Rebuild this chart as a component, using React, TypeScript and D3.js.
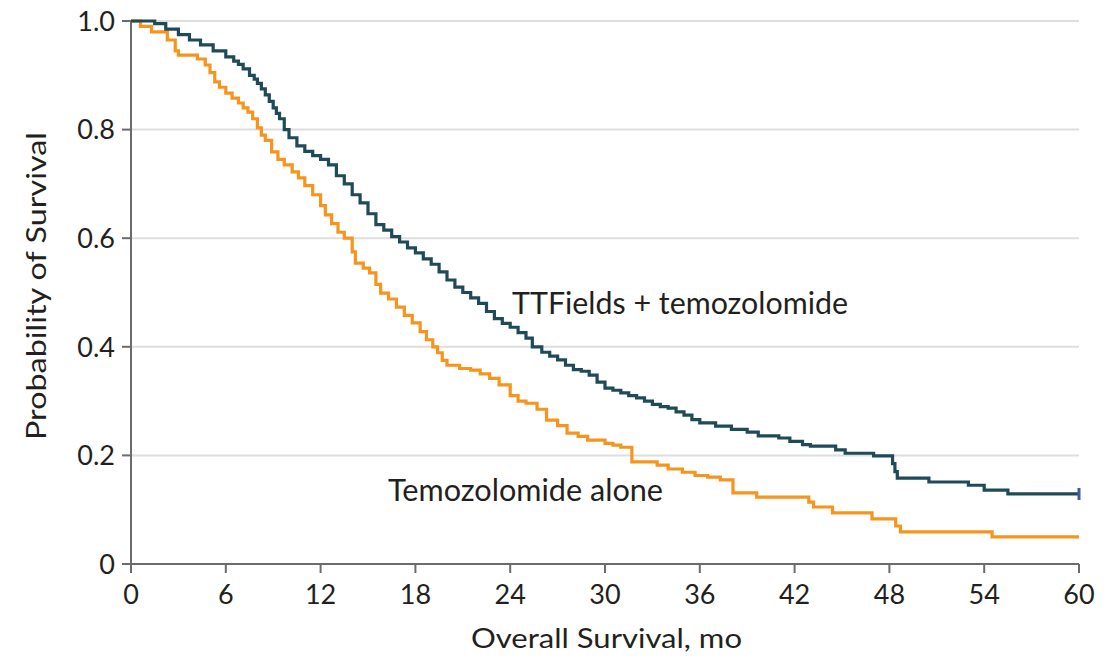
import { scaleLinear, line, curveStepAfter } from "d3";

// Kaplan-Meier curves: [month, survival probability]
const ttfieldsCurve: [number, number][] = [
  [0, 1.0], [1.5, 0.995], [2.2, 0.985], [3, 0.975], [3.7, 0.965], [4.4, 0.956], [5.2, 0.945],
  [6, 0.934], [6.5, 0.926], [6.8, 0.92], [7.1, 0.912], [7.5, 0.9], [7.8, 0.893], [8, 0.885],
  [8.25, 0.875], [8.5, 0.864], [8.75, 0.852], [9, 0.84], [9.2, 0.83], [9.4, 0.82], [9.7, 0.8],
  [10, 0.785], [10.5, 0.77], [11, 0.76], [11.5, 0.752], [12, 0.745], [12.5, 0.735],
  [13, 0.715], [13.5, 0.7], [14, 0.68], [14.5, 0.665], [15, 0.645], [15.5, 0.625], [16, 0.615],
  [16.5, 0.603], [17, 0.593], [17.5, 0.582], [18, 0.573], [18.5, 0.562], [19, 0.552],
  [19.5, 0.538], [20, 0.523], [20.5, 0.51], [21, 0.5], [21.5, 0.49], [22, 0.48], [22.5, 0.465],
  [23, 0.452], [23.5, 0.443], [24, 0.436], [24.5, 0.426], [25, 0.416], [25.4, 0.4], [26, 0.39],
  [26.5, 0.383], [27, 0.376], [27.5, 0.366], [28, 0.358], [28.5, 0.355], [29, 0.348],
  [29.5, 0.335], [30, 0.324], [30.5, 0.32], [31, 0.315], [31.5, 0.31], [32, 0.306], [32.5, 0.3],
  [33, 0.294], [33.5, 0.29], [34, 0.287], [34.5, 0.28], [35, 0.274], [35.5, 0.266], [36, 0.26],
  [37, 0.254], [38, 0.248], [39, 0.243], [39.7, 0.236], [41, 0.232], [41.7, 0.226], [42.5, 0.22],
  [43, 0.217], [44.6, 0.21], [45.2, 0.204], [47, 0.199], [48.2, 0.185], [48.35, 0.17],
  [48.5, 0.158], [50.5, 0.151], [53, 0.145], [54, 0.136], [55.5, 0.129], [60, 0.129],
];

const temozolomideCurve: [number, number][] = [
  [0, 1.0], [0.6, 0.99], [1.3, 0.98], [2.3, 0.965], [2.8, 0.945], [3, 0.937], [4.2, 0.93],
  [4.7, 0.919], [5, 0.905], [5.3, 0.888], [5.6, 0.878], [6, 0.867], [6.4, 0.858], [6.8, 0.849],
  [7.1, 0.84], [7.4, 0.832], [7.7, 0.82], [8, 0.803], [8.25, 0.79], [8.5, 0.78], [8.9, 0.759],
  [9.3, 0.745], [9.7, 0.735], [10.2, 0.722], [10.6, 0.711], [11, 0.697],
  [11.5, 0.68], [12, 0.66], [12.3, 0.643], [12.7, 0.627], [13.1, 0.611], [13.5, 0.6],
  [14, 0.575], [14.2, 0.554], [14.7, 0.545], [15.1, 0.536], [15.5, 0.515], [15.8, 0.499],
  [16.3, 0.488], [16.8, 0.473], [17.3, 0.458], [17.8, 0.444], [18.3, 0.428], [18.7, 0.413],
  [19.1, 0.4], [19.4, 0.389], [19.7, 0.375], [20, 0.366], [20.8, 0.36], [21.5, 0.357],
  [22.1, 0.35], [22.7, 0.342], [23.3, 0.33], [24, 0.31], [24.5, 0.3], [25, 0.296],
  [25.7, 0.285], [26.3, 0.265], [27, 0.255], [27.6, 0.241], [28.3, 0.235], [28.9, 0.228],
  [30, 0.222], [30.5, 0.219], [31, 0.215], [31.7, 0.188], [33.3, 0.182], [34, 0.175],
  [34.9, 0.169], [35.7, 0.163], [36.5, 0.16], [37.3, 0.155], [38.1, 0.131], [39.6, 0.123],
  [42.9, 0.114], [43.2, 0.105], [44.4, 0.094], [46.9, 0.083], [48.4, 0.07], [48.7, 0.059],
  [54.5, 0.05], [60, 0.05],
];

const xTicks = [0, 6, 12, 18, 24, 30, 36, 42, 48, 54, 60];
const yTicks = [0, 0.2, 0.4, 0.6, 0.8, 1.0];
const yTickLabels = ["0", "0.2", "0.4", "0.6", "0.8", "1.0"];

const TEAL = "#1e4b57";
const ORANGE = "#f7941d";
const FONT = "Lato, 'Open Sans', sans-serif";

export default function App() {
  const x = scaleLinear().domain([0, 60]).range([131, 1079]);
  const y = scaleLinear().domain([0, 1]).range([564, 21]);

  const km = line<[number, number]>()
    .x((d) => x(d[0]))
    .y((d) => y(d[1]))
    .curve(curveStepAfter);

  const lastTtf = ttfieldsCurve[ttfieldsCurve.length - 1];

  return (
    <svg
      width={1118}
      height={662}
      style={{ position: "absolute", left: 0, top: 0, background: "#fff" }}
      fontFamily={FONT}
    >
      {/* gridlines */}
      {yTicks.slice(1).map((t) => (
        <line key={t} x1={x(0)} x2={x(60)} y1={y(t)} y2={y(t)} stroke="#dedede" strokeWidth={2} />
      ))}

      {/* y axis */}
      <line x1={x(0)} x2={x(0)} y1={y(1)} y2={y(0)} stroke="#6b6b6b" strokeWidth={2} />
      {yTicks.map((t, i) => (
        <g key={t}>
          <line x1={x(0) - 9} x2={x(0)} y1={y(t)} y2={y(t)} stroke="#6b6b6b" strokeWidth={2} />
          <text x={x(0) - 16} y={y(t)} dy="0.36em" textAnchor="end" fontSize={27} fill="#231f20">
            {yTickLabels[i]}
          </text>
        </g>
      ))}

      {/* x axis */}
      <line x1={x(0) - 9} x2={x(60)} y1={y(0)} y2={y(0)} stroke="#6b6b6b" strokeWidth={2} />
      {xTicks.map((t) => (
        <g key={t}>
          <line x1={x(t)} x2={x(t)} y1={y(0)} y2={y(0) + 9} stroke="#6b6b6b" strokeWidth={2} />
          <text x={x(t)} y={604} textAnchor="middle" fontSize={27} fill="#231f20">
            {t}
          </text>
        </g>
      ))}

      {/* axis titles */}
      <text
        x={471}
        y={648}
        fontSize={27}
        fill="#231f20"
        textLength={271}
        lengthAdjust="spacingAndGlyphs"
      >
        Overall Survival, mo
      </text>
      <text
        transform="translate(46,440) rotate(-90)"
        fontSize={27}
        fill="#231f20"
        textLength={308}
        lengthAdjust="spacingAndGlyphs"
      >
        Probability of Survival
      </text>

      {/* curves */}
      <path d={km(temozolomideCurve) ?? ""} fill="none" stroke={ORANGE} strokeWidth={3.2} />
      <path d={km(ttfieldsCurve) ?? ""} fill="none" stroke={TEAL} strokeWidth={3.2} />
      <line
        x1={x(lastTtf[0])}
        x2={x(lastTtf[0])}
        y1={y(lastTtf[1]) - 6}
        y2={y(lastTtf[1]) + 6}
        stroke="#3b5ba5"
        strokeWidth={3}
      />

      {/* curve labels */}
      <text
        x={512}
        y={314}
        fontSize={30}
        fill="#231f20"
        textLength={336}
        lengthAdjust="spacingAndGlyphs"
      >
        TTFields + temozolomide
      </text>
      <text
        x={388}
        y={501}
        fontSize={30}
        fill="#231f20"
        textLength={275}
        lengthAdjust="spacingAndGlyphs"
      >
        Temozolomide alone
      </text>
    </svg>
  );
}
